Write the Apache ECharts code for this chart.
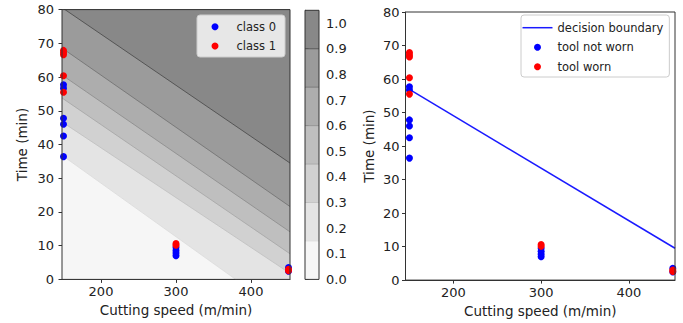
<!DOCTYPE html>
<html><head><meta charset="utf-8">
<script src="https://cdn.jsdelivr.net/npm/echarts@6/dist/echarts.min.js"></script>
<style>html,body{margin:0;padding:0;background:#fff}#c{width:683px;height:323px}</style>
</head><body><div id="c"></div>
<script>
// ---------------- data ----------------
const speedTicks = [200, 300, 400];
const timeTicks = [0, 10, 20, 30, 40, 50, 60, 70, 80];
const probTicks = [0.0, 0.1, 0.2, 0.3, 0.4, 0.5, 0.6, 0.7, 0.8, 0.9, 1.0];

// filled-contour levels of the predicted probability
const contourLevels = [0, 0.15, 0.30, 0.45, 0.60, 0.75, 0.90, 1.05];
// extent of the contour grid
const contourSpeedRange = [148, 452];
const contourTimeRange = [0, 80];
// time (min) where each inner level line (0.15 ... 0.90) meets the left / right edge
const levelTimeAtLeft  = [36.8, 46.7, 53.8, 60.6, 68.6, 80.6];
const levelTimeAtRight = [-11.5, 1.8, 7.6, 14.1, 21.6, 34.5];

// observations
const notWornSpeed = [150, 150, 150, 150, 150, 150, 300, 300, 300, 300, 450, 450];
const notWornTime  = [57.7, 56.7, 47.8, 46.0, 42.5, 36.4, 9.5, 8.6, 7.8, 7.0, 3.5, 2.4];
const wornSpeed = [150, 150, 150, 150, 150, 300, 300, 450, 450];
const wornTime  = [67.9, 67.2, 66.6, 60.4, 55.5, 10.6, 10.1, 3.0, 2.6];

// decision boundary (p = 0.5) of the right panel
const boundarySpeed = [150, 452.5];
const boundaryTime  = [56.9, 9.5];
const rightSpeedRange = [145.5, 452.5];

// ---------------- styling ----------------
const F = 'DejaVu Sans';
const bandColors = ['#f6f6f6', '#e4e4e4', '#d1d1d1', '#bfbfbf', '#adadad', '#9b9b9b', '#888888'];
const levelLineColors = ['#dcdcdc', '#c2c2c2', '#a8a8a8', '#8f8f8f', '#757575', '#4e4e4e'];
const TXT = '#222';
const BLUE = '#0000ff', RED = '#ff0000', LINEBLUE = '#1a1aff';

const zip = (xs, ys) => xs.map((x, i) => [x, ys[i]]);

function xAx(gi, min, max) {
  return {
    type: 'value', gridIndex: gi, min: min, max: max,
    name: 'Cutting speed (m/min)', nameLocation: 'middle', nameGap: 23,
    nameTextStyle: { fontSize: 13.5, color: TXT, fontFamily: F },
    axisLine: { show: true, lineStyle: { color: '#333', width: 1 } },
    splitLine: { show: false },
    axisTick: { show: true, length: 3.5, customValues: speedTicks, lineStyle: { color: '#333' } },
    axisLabel: { customValues: speedTicks, margin: 6, fontSize: 13, color: TXT, fontFamily: F }
  };
}
function yAx(gi, gap, margin) {
  return {
    type: 'value', gridIndex: gi, min: timeTicks[0], max: timeTicks[timeTicks.length - 1],
    name: 'Time (min)', nameLocation: 'middle', nameGap: gap, nameRotate: 90,
    nameTextStyle: { fontSize: 13.5, color: TXT, fontFamily: F },
    axisLine: { show: true, lineStyle: { color: '#333', width: 1 } },
    splitLine: { show: false },
    axisTick: { show: true, length: 3.5, customValues: timeTicks, lineStyle: { color: '#333' } },
    axisLabel: { customValues: timeTicks, margin: margin, fontSize: 13, color: TXT, fontFamily: F }
  };
}

const nBands = contourLevels.length - 1;
const series = [];

// filled contour bands (each band painted over everything above its lower level line)
series.push({
  type: 'custom', xAxisIndex: 0, yAxisIndex: 0, clip: true, z: 1, silent: true,
  data: contourLevels.slice(0, -1).map((lv, i) => [i]),
  renderItem: function (params, api) {
    const i = params.dataIndex;
    const x0 = contourSpeedRange[0], x1 = contourSpeedRange[1];
    const yTop = Math.max(contourTimeRange[1], levelTimeAtLeft[nBands - 2], levelTimeAtRight[nBands - 2]);
    let pts;
    if (i === 0) {
      pts = [[x0, contourTimeRange[0]], [x1, contourTimeRange[0]], [x1, yTop], [x0, yTop]];
    } else {
      pts = [[x0, levelTimeAtLeft[i - 1]], [x1, levelTimeAtRight[i - 1]], [x1, yTop + 1], [x0, yTop + 1]];
    }
    return {
      type: 'polygon',
      shape: { points: pts.map(p => api.coord(p)) },
      style: { fill: bandColors[i], stroke: null }
    };
  }
});

// contour level lines
levelTimeAtLeft.forEach((t, k) => {
  series.push({
    type: 'line', xAxisIndex: 0, yAxisIndex: 0, z: 2, silent: true, symbol: 'none',
    clip: true,
    data: [[contourSpeedRange[0], levelTimeAtLeft[k]], [contourSpeedRange[1], levelTimeAtRight[k]]],
    lineStyle: { color: levelLineColors[k], width: 0.9 }
  });
});

// scatter on left panel
series.push({
  name: 'class 0', type: 'scatter', xAxisIndex: 0, yAxisIndex: 0, z: 5,
  data: zip(notWornSpeed, notWornTime), symbolSize: 7, itemStyle: { color: BLUE, opacity: 1 }
});
series.push({
  name: 'class 1', type: 'scatter', xAxisIndex: 0, yAxisIndex: 0, z: 6,
  data: zip(wornSpeed, wornTime), symbolSize: 7, itemStyle: { color: RED, opacity: 1 }
});

// colorbar
series.push({
  type: 'custom', xAxisIndex: 1, yAxisIndex: 1, z: 1, silent: true,
  data: contourLevels.slice(0, -1).map((lv, i) => [i]),
  renderItem: function (params, api) {
    const i = params.dataIndex;
    const a = api.coord([0, contourLevels[i]]);
    const b = api.coord([1, contourLevels[i + 1]]);
    const children = [{
      type: 'rect',
      shape: { x: a[0], y: b[1], width: b[0] - a[0], height: a[1] - b[1] },
      style: { fill: bandColors[i], stroke: null }
    }];
    if (i > 0) {
      children.push({
        type: 'line',
        shape: { x1: a[0], y1: a[1], x2: b[0], y2: a[1] },
        style: { stroke: levelLineColors[i - 1], lineWidth: 0.9 }
      });
    }
    return { type: 'group', children: children };
  }
});

// right panel
series.push({
  name: 'decision boundary', type: 'line', xAxisIndex: 2, yAxisIndex: 2, z: 4,
  symbol: 'none', showSymbol: false, data: zip(boundarySpeed, boundaryTime),
  lineStyle: { color: LINEBLUE, width: 1.5 }, itemStyle: { color: LINEBLUE }
});
series.push({
  name: 'tool not worn', type: 'scatter', xAxisIndex: 2, yAxisIndex: 2, z: 5,
  data: zip(notWornSpeed, notWornTime), symbolSize: 7, itemStyle: { color: BLUE, opacity: 1 }
});
series.push({
  name: 'tool worn', type: 'scatter', xAxisIndex: 2, yAxisIndex: 2, z: 6,
  data: zip(wornSpeed, wornTime), symbolSize: 7, itemStyle: { color: RED, opacity: 1 }
});

const legendCommon = {
  orient: 'vertical', itemHeight: 7, selectedMode: false,
  textStyle: { fontSize: 11.5, color: TXT, fontFamily: F },
  backgroundColor: 'rgba(255,255,255,0.8)', borderColor: '#cccccc', borderWidth: 1, borderRadius: 3
};

const option = {
  animation: false,
  backgroundColor: '#ffffff',
  textStyle: { fontFamily: F },
  grid: [
    { left: 62, top: 9.6, width: 228, height: 269.8, show: true, borderColor: '#333', borderWidth: 1, backgroundColor: 'transparent', z: 10 },
    { left: 305, top: 10.3, width: 14, height: 269.1, show: true, borderColor: '#333', borderWidth: 1, backgroundColor: 'transparent', z: 10 },
    { left: 405.5, top: 12, width: 269.5, height: 270, show: true, borderColor: '#333', borderWidth: 1, backgroundColor: 'transparent', z: 10 }
  ],
  xAxis: [
    xAx(0, contourSpeedRange[0], contourSpeedRange[1]),
    { type: 'value', gridIndex: 1, min: 0, max: 1, show: false },
    xAx(2, rightSpeedRange[0], rightSpeedRange[1])
  ],
  yAxis: [
    yAx(0, 33.5, 8),
    {
      type: 'value', gridIndex: 1, position: 'right', min: contourLevels[0], max: contourLevels[contourLevels.length - 1],
      axisLine: { show: true, lineStyle: { color: '#333', width: 1 } },
      splitLine: { show: false },
      axisTick: { show: true, length: 3.5, customValues: probTicks, lineStyle: { color: '#333' } },
      axisLabel: { customValues: probTicks, margin: 7, fontSize: 13, color: TXT, fontFamily: F,
                   formatter: v => Number(v).toFixed(1) }
    },
    yAx(2, 29.5, 6)
  ],
  legend: [
    Object.assign({}, legendCommon, {
      data: [{ name: 'class 0', icon: 'circle' }, { name: 'class 1', icon: 'circle' }],
      left: 197, top: 15, itemWidth: 33, itemGap: 7.3, padding: [5.7, 9, 5, 14.5]
    }),
    Object.assign({}, legendCommon, {
      data: [
        { name: 'decision boundary', icon: 'path://M0,0H30V1.5H0Z' },
        { name: 'tool not worn', icon: 'circle' },
        { name: 'tool worn', icon: 'circle' }
      ],
      left: 521, top: 15, itemWidth: 30, itemGap: 7.5, padding: [6.7, 6, 4.3, 1.5]
    })
  ],
  series: series
};

const chart = echarts.init(document.getElementById('c'), null, { renderer: 'svg' });
chart.setOption(option);
</script>
</body></html>
